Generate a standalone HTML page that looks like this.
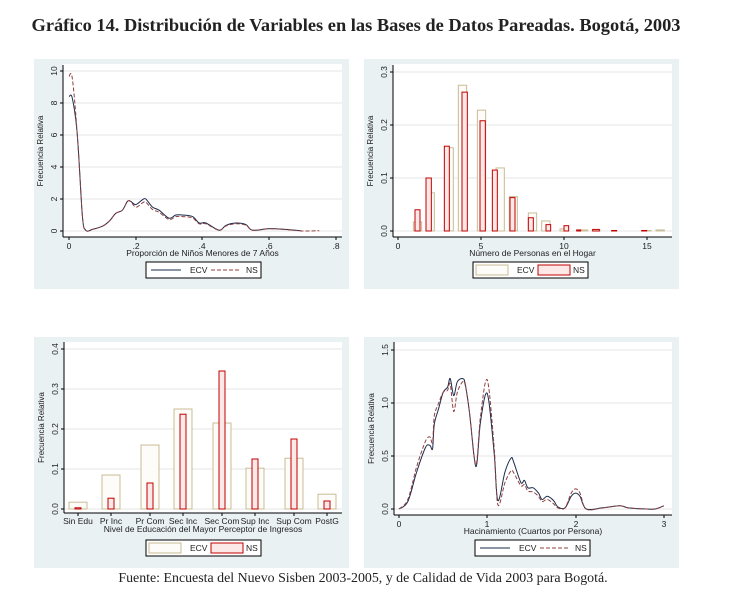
<!DOCTYPE html>
<html><head><meta charset="utf-8"><style>
body{margin:0;background:#fff;width:732px;height:612px;overflow:hidden}
svg{position:absolute;left:0;top:0}
text{font-family:"Liberation Sans",sans-serif;fill:#222}
.t{font-family:"Liberation Serif",serif}
</style></head><body>
<svg id="s" width="732" height="612" xmlns="http://www.w3.org/2000/svg">
<text class="t" x="356" y="31" text-anchor="middle" font-size="18.4" font-weight="bold">Gráfico 14. Distribución de Variables en las Bases de Datos Pareadas. Bogotá, 2003</text>
<text class="t" x="363" y="582" text-anchor="middle" font-size="13.9">Fuente: Encuesta del Nuevo Sisben 2003-2005, y de Calidad de Vida 2003 para Bogotá.</text>
<rect x="34" y="59" width="315" height="230" fill="#eaf1f3"/>
<rect x="364" y="59" width="315" height="230" fill="#eaf1f3"/>
<rect x="34" y="337" width="315" height="231" fill="#eaf1f3"/>
<rect x="364" y="337" width="315" height="231" fill="#eaf1f3"/>
<rect x="63" y="64" width="279" height="173" fill="#fff"/>
<rect x="393" y="64" width="279" height="173" fill="#fff"/>
<rect x="64" y="342" width="278" height="171" fill="#fff"/>
<rect x="394" y="342" width="278" height="173" fill="#fff"/>
<g id="g"></g>
</svg>
<script>
var g=document.getElementById('g'),h='';
function L(x1,y1,x2,y2,c,w,d){h+='<line x1="'+x1+'" y1="'+y1+'" x2="'+x2+'" y2="'+y2+'" stroke="'+c+'" stroke-width="'+(w||1)+'"'+(d?' stroke-dasharray="'+d+'"':'')+'/>';}
function T(x,y,s,fs,a,rot){h+='<text x="'+x+'" y="'+y+'" font-size="'+(fs||8.5)+'" text-anchor="'+(a||'middle')+'"'+(rot?' transform="rotate(-90 '+x+' '+y+')"':'')+'>'+s+'</text>';}
function R(x,y,w,hh,st,f){h+='<rect x="'+x+'" y="'+y+'" width="'+w+'" height="'+hh+'" fill="'+f+'" stroke="'+st+'" stroke-width="1"/>';}
function P(pts,fx,fy,c,d){var q=pts.map(function(p){return [fx(p[0]),fy(p[1])]});var s='M'+q[0][0].toFixed(1)+' '+q[0][1].toFixed(1);
 for(var i=0;i<q.length-1;i++){var p0=q[i-1]||q[i],p1=q[i],p2=q[i+1],p3=q[i+2]||p2;
  s+='C'+(p1[0]+(p2[0]-p0[0])/6).toFixed(1)+' '+(p1[1]+(p2[1]-p0[1])/6).toFixed(1)+' '+(p2[0]-(p3[0]-p1[0])/6).toFixed(1)+' '+(p2[1]-(p3[1]-p1[1])/6).toFixed(1)+' '+p2[0].toFixed(1)+' '+p2[1].toFixed(1);}
 h+='<path d="'+s+'" fill="none" stroke="'+c+'" stroke-width="1"'+(d?' stroke-dasharray="'+d+'"':'')+' stroke-linejoin="round"/>';}
function axes(ax,ay,x0,x1,yt,ylab,xlab,xt,xly){
 yt.forEach(function(t){L(ax,t[0],x1,t[0],'#e6e6e6');L(ax-3,t[0],ax,t[0],'#000');T(ax-6,t[0],t[1],8.5,'middle',1);});
 L(ax,x0,ax,ay,'#000');L(ax,ay,x1,ay,'#000');
 xt.forEach(function(t){L(t[0],ay,t[0],ay+3,'#000');T(t[0],ay+12,t[1],8.5);});
 T(ax-20,(x0+ay)/2,ylab,8,'middle',1);T((ax+x1)/2,xly,xlab,8.5);
}
function legend(x,y,bars){R(x,y,115,16,'#000','#fff');
 if(bars){R(x+3,y+3,32,10,'#c8bc96','#fdfcf8');T(x+44,y+11,'ECV',8.5,'start');R(x+65,y+3,32,10,'#c00000','#fde8e8');T(x+100,y+11,'NS',8.5,'start');}
 else{L(x+5,y+8,x+35,y+8,'#1a2b4a');T(x+44,y+11,'ECV',8.5,'start');L(x+65,y+8,x+95,y+8,'#904040',1,'4,2');T(x+100,y+11,'NS',8.5,'start');}}
var fx1=function(v){return 69+v*333.75},fy1=function(v){return 231-v*16};
axes(63,237,65,342,[[231,'0'],[199,'2'],[167,'4'],[135,'6'],[103,'8'],[71,'10']],'Frecuencia Relativa','Proporción de Niños Menores de 7 Años',[[69,'0'],[136,'.2'],[202,'.4'],[269,'.6'],[336,'.8']],256);
var e1=[[0,8.4],[0.01,8.3],[0.025,6],[0.04,1],[0.05,0.05],[0.07,0.1],[0.1,0.3],[0.12,0.6],[0.14,1.1],[0.16,1.3],[0.175,1.85],[0.185,1.85],[0.2,1.65],[0.22,1.95],[0.23,2.0],[0.25,1.5],[0.27,1.3],[0.3,0.8],[0.32,1.0],[0.34,1.0],[0.37,0.9],[0.39,0.5],[0.41,0.5],[0.45,0.05],[0.47,0.35],[0.5,0.5],[0.53,0.4],[0.55,0.05],[0.6,0.15],[0.65,0.1],[0.7,0.0]];
var n1=e1.map(function(p){return [p[0],p[0]<0.02?p[1]*1.15:p[1]*(p[0]>0.19?0.9:1)]});n1.push([0.75,0.02]);
P(e1,fx1,fy1,'#1a2b4a');P(n1,fx1,fy1,'#904040','4,2');
legend(146,262,0);
var fy2=function(v){return 231-v*530};
axes(393,237,65,672,[[231,'0.0'],[178,'0.1'],[125,'0.2'],[72,'0.3']],'Frecuencia Relativa','Número de Personas en el Hogar',[[398,'0'],[481,'5'],[564,'10'],[647,'15']],256);
[[160,185,.017],[198,223,.072],[255,280,.157],[295,320,.275],[352,377,.228],[408,433,.119],[448,472,.065],[505,530,.034],[545,570,.019],[600,625,.004],[660,683,.002],[697,720,.002],[848,873,.001],[888,913,.002]].forEach(function(b){var y=fy2(b[2]);R(360+b[0]/3,y,(b[1]-b[0])/3,231-y,'#c8bc96','#fdfcf8');});
[[165,180,.04],[198,214,.1],[253,268,.16],[306,322,.262],[360,376,.208],[397,412,.115],[450,465,.063],[505,520,.025],[558,572,.012],[612,626,.01],[650,662,.002],[698,718,.003],[755,770,.001],[845,860,.001]].forEach(function(b){var y=fy2(b[2]);R(360+b[0]/3,y,(b[1]-b[0])/3,231-y,'#c00000','#fde8e8');});
legend(473,262,1);
var fy3=function(v){return 509-v*400};
axes(64,513,342,342,[[509,'0.0'],[469,'0.1'],[429,'0.2'],[389,'0.3'],[349,'0.4']],'Frecuencia Relativa','',[],0);
var cats=[['Sin Edu',78,.017,.003],['Pr Inc',111,.085,.027],['Pr Com',150,.16,.065],['Sec Inc',183,.25,.237],['Sec Com',222,.215,.345],['Sup Inc',255,.102,.125],['Sup Com',294,.127,.175],['PostG',327,.037,.02]];
cats.forEach(function(c){var y=fy3(c[2]);R(c[1]-9,y,18,509-y,'#c8bc96','#fdfcf8');y=fy3(c[3]);R(c[1]-3,y,6,509-y,'#c00000','#fde8e8');L(c[1],513,c[1],516,'#000');T(c[1],524,c[0],8.5);});
T(203,532,'Nivel de Educación del Mayor Perceptor de Ingresos',8.5);
legend(146,540,1);
var fx4=function(v){return 399+v*88.3},fy4=function(v){return 509-v*106};
axes(394,515,342,672,[[509,'0.0'],[456,'0.5'],[403,'1.0'],[350,'1.5']],'Frecuencia Relativa','Hacinamiento (Cuartos por Persona)',[[399,'0'],[487,'1'],[576,'2'],[664,'3']],534);
var e4=[[0,0],[0.1,0.07],[0.2,0.35],[0.3,0.58],[0.35,0.6],[0.38,0.57],[0.4,0.8],[0.45,0.95],[0.5,1.1],[0.55,1.15],[0.58,1.23],[0.62,1.07],[0.66,1.2],[0.72,1.23],[0.75,1.18],[0.8,0.9],[0.87,0.4],[0.92,0.8],[0.98,1.08],[1.02,1.0],[1.08,0.5],[1.12,0.08],[1.2,0.35],[1.27,0.48],[1.3,0.44],[1.38,0.25],[1.42,0.27],[1.46,0.2],[1.52,0.2],[1.58,0.15],[1.62,0.09],[1.68,0.12],[1.75,0.08],[1.8,0.02],[1.88,0.01],[1.95,0.12],[2.0,0.15],[2.05,0.12],[2.12,0],[2.3,0.01],[2.5,0.03],[2.6,0.01],[2.8,0],[2.9,0],[3.0,0.03]];
var n4=[[0,0],[0.1,0.09],[0.2,0.4],[0.3,0.64],[0.35,0.68],[0.38,0.63],[0.4,0.88],[0.45,1.0],[0.5,1.1],[0.55,1.12],[0.58,1.18],[0.62,0.92],[0.66,1.1],[0.72,1.2],[0.75,1.17],[0.8,0.9],[0.87,0.42],[0.92,0.85],[0.98,1.2],[1.02,1.12],[1.08,0.55],[1.12,0.04],[1.2,0.25],[1.27,0.36],[1.3,0.34],[1.38,0.22],[1.42,0.23],[1.46,0.17],[1.52,0.16],[1.58,0.12],[1.62,0.07],[1.68,0.09],[1.75,0.05],[1.8,0.01],[1.88,0.01],[1.95,0.15],[2.0,0.19],[2.05,0.15],[2.12,0],[2.3,0.01],[2.5,0.03],[2.6,0.01],[2.8,0],[2.9,0],[3.0,0.03]];
P(e4,fx4,fy4,'#1a2b4a');P(n4,fx4,fy4,'#904040','4,2');
legend(475,540,0);
g.innerHTML=h;
</script>
</body></html>
